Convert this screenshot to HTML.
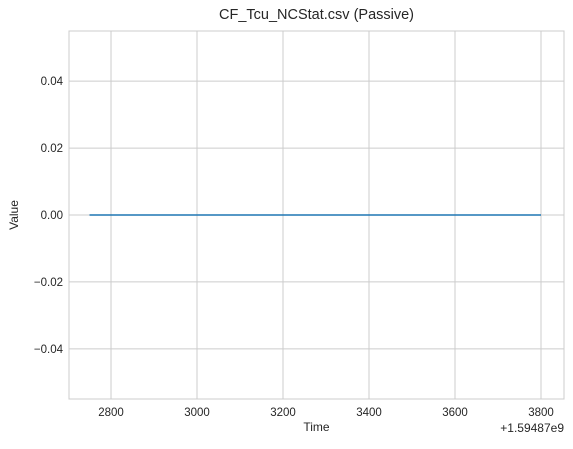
<!DOCTYPE html>
<html><head><meta charset="utf-8"><style>
body{margin:0;background:#fff;font-family:"Liberation Sans","DejaVu Sans",sans-serif;}
svg text{font-family:"Liberation Sans","DejaVu Sans",sans-serif;fill:#262626;}
</style></head><body>
<svg id="chart" width="573" height="444" xmlns="http://www.w3.org/2000/svg">
<rect width="573" height="444" fill="#fff"/>
<g id="grid"></g>
<rect x="69" y="31" width="495" height="368" fill="none" stroke="#cccccc" stroke-width="1"/>
<g id="marks"></g>
<g id="labels"></g>
<text x="316.5" y="19" text-anchor="middle" font-size="14.5">CF_Tcu_NCStat.csv (Passive)</text>
<text x="316.5" y="431" text-anchor="middle" font-size="12">Time</text>
<text transform="translate(18,215) rotate(-90)" text-anchor="middle" font-size="12">Value</text>
<text x="564" y="432" text-anchor="end" font-size="12">+1.59487e9</text>
</svg>
<script>
const xTicks=[2800,3000,3200,3400,3600,3800];
const yTicks=[-0.04,-0.02,0,0.02,0.04];
const yTickLabels=["−0.04","−0.02","0.00","0.02","0.04"];
const seriesX=[2750,3800];
const seriesY=[0,0];
const X0=69,X1=564,Y0=399,Y1=31;
const xMin=2702.3,xMax=3853.5,yMin=-0.055,yMax=0.055;
const sx=v=>X0+(v-xMin)/(xMax-xMin)*(X1-X0);
const sy=v=>Y0-(v-yMin)/(yMax-yMin)*(Y0-Y1);
const NS="http://www.w3.org/2000/svg";
const grid=document.getElementById('grid'),labels=document.getElementById('labels'),marks=document.getElementById('marks');
function mk(t,a){const e=document.createElementNS(NS,t);for(const k in a)e.setAttribute(k,a[k]);return e;}
xTicks.forEach(v=>{
 const l=mk('line',{x1:sx(v),x2:sx(v),y1:Y1,y2:Y0,stroke:'#cccccc','stroke-width':1});
 
 
 grid.appendChild(l);
 const t=mk('text',{x:sx(v),y:Y0+17,'text-anchor':'middle','font-size':11.5});
 
 
 t.textContent=v;labels.appendChild(t);
});
yTicks.forEach((v,i)=>{
 const l=mk('line',{x1:X0,x2:X1,y1:sy(v),y2:sy(v),stroke:'#cccccc','stroke-width':1});
 
 
 grid.appendChild(l);
 const t=mk('text',{x:X0-6,y:sy(v)+4,'text-anchor':'end','font-size':11.5});
 
 
 t.textContent=yTickLabels[i];labels.appendChild(t);
});
const p=mk('polyline',{points:seriesX.map((x,i)=>sx(x)+','+sy(seriesY[i])).join(' '),fill:'none',stroke:'#1f77b4','stroke-width':1.6});


marks.appendChild(p);
</script>
</body></html>
